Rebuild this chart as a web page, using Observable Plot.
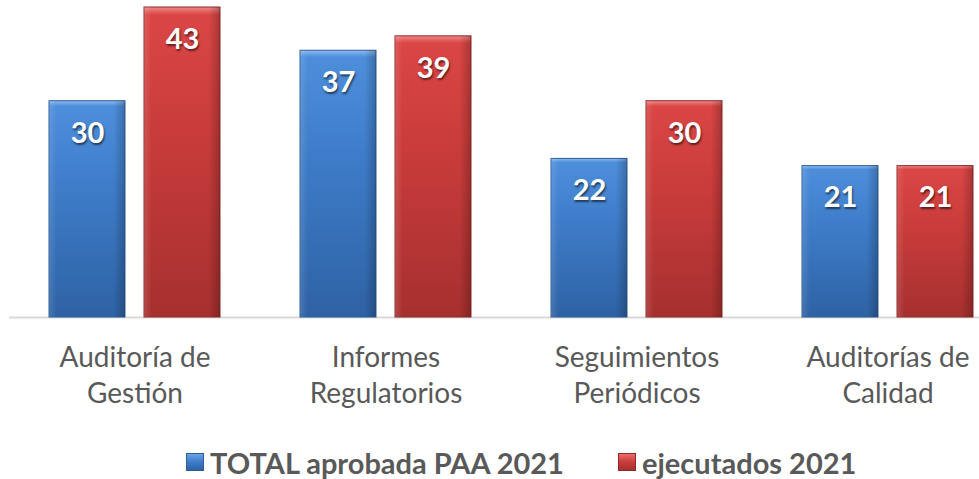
<!DOCTYPE html>
<html><head><meta charset="utf-8">
<script src="https://cdn.jsdelivr.net/npm/d3@7"></script>
<script src="https://cdn.jsdelivr.net/npm/@observablehq/plot@0.6"></script>
<style>
body{margin:0;background:#fff;font-family:Lato,sans-serif;}
#wrap{position:relative;width:979px;height:479px;overflow:hidden;}
#legend{position:absolute;left:0;top:443px;height:38px;width:979px;font-weight:bold;font-size:29px;color:#595959;}
.item{position:absolute;top:0;display:flex;align-items:center;height:38px;white-space:nowrap;}
.sw{width:18px;height:18px;margin-right:6px;box-sizing:border-box;}
</style></head><body>
<div id="wrap"><div id="chart"></div><div id="legend"></div></div>
<script>
const categories = ["Auditoría de Gestión", "Informes Regulatorios", "Seguimientos Periódicos", "Auditorías de Calidad"];
const tickLabels = ["Auditoría de\nGestión", "Informes\nRegulatorios", "Seguimientos\nPeriódicos", "Auditorías de\nCalidad"];
const series = ["TOTAL aprobada PAA 2021", "ejecutados 2021"];
const aprobados = [30, 37, 22, 21];
const ejecutados = [43, 39, 30, 21];

const data = [];
categories.forEach((c, i) => {
  data.push({category: c, series: series[0], value: aprobados[i]});
  data.push({category: c, series: series[1], value: ejecutados[i]});
});
const labelOf = new Map(categories.map((c, i) => [c, tickLabels[i]]));

const chart = Plot.plot({
  width: 979,
  height: 430,
  marginTop: 7,
  marginBottom: 113,
  marginLeft: 0,
  marginRight: 0,
  style: {fontFamily: "Lato, sans-serif", color: "#595959", background: "#fff"},
  fx: {domain: categories, range: [7.5, 1014.5], padding: 0, label: null},
  x: {domain: series, paddingInner: 0.198, paddingOuter: 0.4115, axis: null},
  y: {domain: [0, 43], axis: null},
  color: {domain: series, range: ["url(#gBlue)", "url(#gRed)"]},
  marks: [
    Plot.ruleY([0], {stroke: "#d9d9d9", strokeWidth: 2}),
    Plot.barY(data, {fx: "category", x: "series", y: "value", fill: "series",
      stroke: d => d.series === series[0] ? "#2c5d98" : "#8e2a29", strokeWidth: 1}),
    Plot.barY(data, {fx: "category", x: "series", y: "value", fill: "url(#gShade)"}),
    Plot.text(data, {fx: "category", x: "series", y: "value", text: d => String(d.value),
      dy: 32, lineAnchor: "middle", fill: "white", fontSize: 29, fontWeight: "bold"}),
    Plot.axisFx({anchor: "bottom", tickSize: 0, tickPadding: 23, fontSize: 28, lineHeight: 1.31,
      tickFormat: d => labelOf.get(d), label: null, fill: "#595959"})
  ]
});

const svg = d3.select(chart);
const defs = svg.insert("defs", ":first-child");
function grad(id, stops, horiz) {
  const g = defs.append("linearGradient").attr("id", id)
    .attr("x1", 0).attr("y1", 0).attr("x2", horiz ? 1 : 0).attr("y2", horiz ? 0 : 1);
  stops.forEach(([o, c, a]) => g.append("stop").attr("offset", o).attr("stop-color", c).attr("stop-opacity", a ?? 1));
}
grad("gBlue", [[0, "#8dbcf0"], [0.025, "#4d8edb"], [0.4, "#3e7cc9"], [1, "#2e62a4"]]);
grad("gRed", [[0, "#f08a8a"], [0.025, "#da4645"], [0.4, "#c93c3b"], [1, "#a6302f"]]);
grad("gShade", [[0, "#ffffff", 0.12], [0.1, "#ffffff", 0], [0.85, "#000000", 0], [1, "#000000", 0.22]], true);

svg.selectAll("g[aria-label='text'] text").style("text-shadow", "1px 2px 2px rgba(0,0,0,0.55)");

document.getElementById("chart").appendChild(chart);

const legend = document.getElementById("legend");
const items = [
  {label: series[0], left: 186, bg: "linear-gradient(#6aa3e6, #3e7cc9 50%, #2e62a4)", border: "#2c5d98"},
  {label: series[1], left: 618, bg: "linear-gradient(#ee6b6a, #c93c3b 50%, #a6302f)", border: "#8e2a29"}
];
items.forEach(it => {
  const d = document.createElement("div");
  d.className = "item";
  d.style.left = it.left + "px";
  const sw = document.createElement("div");
  sw.className = "sw";
  sw.style.background = it.bg;
  sw.style.border = "1px solid " + it.border;
  const t = document.createElement("span");
  t.textContent = it.label;
  d.appendChild(sw); d.appendChild(t);
  legend.appendChild(d);
});
</script>
</body></html>
